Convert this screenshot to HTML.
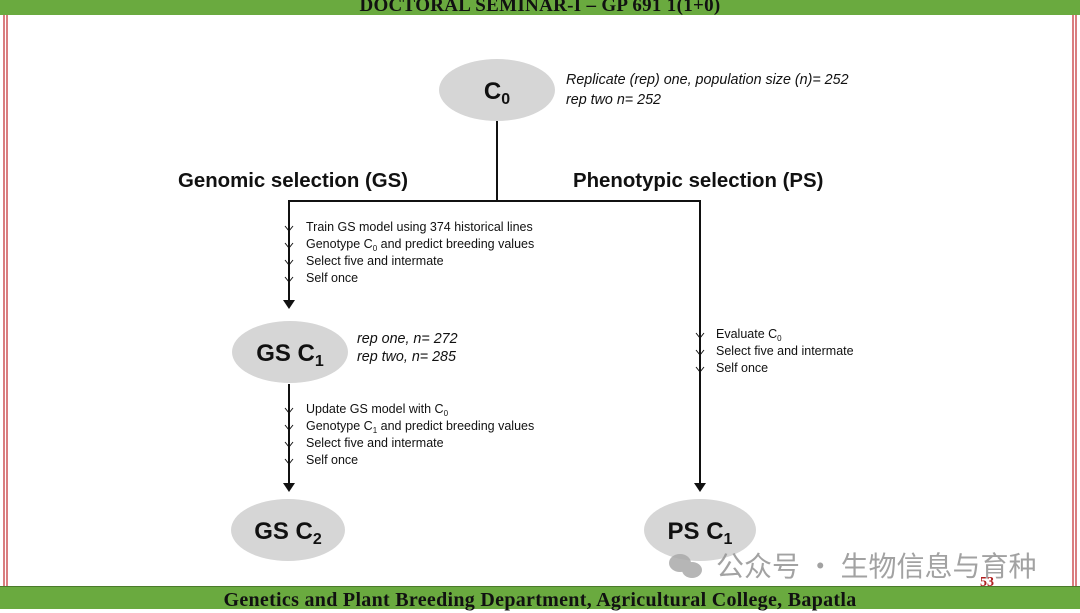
<!DOCTYPE html>
<html><head><style>
body{margin:0;width:1080px;height:608px;overflow:hidden;background:#fff;position:relative;font-family:"Liberation Sans",sans-serif}
.bar{position:absolute;left:0;width:1080px;background:#6aaa3f;text-align:center;font-family:"Liberation Serif",serif;font-weight:bold;color:#111}
</style></head><body>
<div class="bar" style="top:0;height:15px;font-size:19px;line-height:11px;overflow:hidden;letter-spacing:0.3px">DOCTORAL SEMINAR-I – GP 691 1(1+0)</div>
<div class="bar" style="top:586px;height:22px;font-size:20px;line-height:26px;border-top:1px solid #4a7a2a;letter-spacing:0.3px">Genetics and Plant Breeding Department, Agricultural College, Bapatla</div>
<svg width="1080" height="608" style="position:absolute;left:0;top:0">
<g stroke="#c0282c" stroke-width="1.2"><line x1="4" y1="15" x2="4" y2="586"/><line x1="7" y1="15" x2="7" y2="586"/><line x1="1073" y1="15" x2="1073" y2="586"/><line x1="1076" y1="15" x2="1076" y2="586"/></g>
<g fill="#d6d6d6"><ellipse cx="497" cy="90" rx="58" ry="31"/><ellipse cx="290" cy="352" rx="58" ry="31"/><ellipse cx="288" cy="530" rx="57" ry="31"/><ellipse cx="700" cy="530" rx="56" ry="31"/></g>
<g stroke="#111" stroke-width="2" fill="none">
<line x1="497" y1="121" x2="497" y2="201"/><line x1="288" y1="201" x2="701" y2="201"/>
<line x1="289" y1="201" x2="289" y2="303"/><line x1="289" y1="384" x2="289" y2="488"/><line x1="700" y1="201" x2="700" y2="488"/>
</g>
<g fill="#111"><polygon points="283,300 295,300 289,309"/><polygon points="283,483 295,483 289,492"/><polygon points="694,483 706,483 700,492"/></g>
<g stroke="#111" stroke-width="1" fill="none">
<path d="M285,226 l4,5 l4,-5 M285,243 l4,5 l4,-5 M285,260 l4,5 l4,-5 M285,277 l4,5 l4,-5"/>
<path d="M285,408 l4,5 l4,-5 M285,425 l4,5 l4,-5 M285,442 l4,5 l4,-5 M285,459 l4,5 l4,-5"/>
<path d="M696,333 l4,5 l4,-5 M696,350 l4,5 l4,-5 M696,367 l4,5 l4,-5"/>
</g>
<g font-family="Liberation Sans,sans-serif" fill="#111">
<text x="497" y="99" font-size="24" font-weight="bold" text-anchor="middle">C<tspan font-size="16" dy="5">0</tspan></text>
<text x="290" y="361" font-size="24" font-weight="bold" text-anchor="middle">GS C<tspan font-size="16" dy="5">1</tspan></text>
<text x="288" y="539" font-size="24" font-weight="bold" text-anchor="middle">GS C<tspan font-size="16" dy="5">2</tspan></text>
<text x="700" y="539" font-size="24" font-weight="bold" text-anchor="middle">PS C<tspan font-size="16" dy="5">1</tspan></text>
<text x="178" y="187" font-size="20.4" font-weight="bold">Genomic selection (GS)</text>
<text x="573" y="187" font-size="20.4" font-weight="bold">Phenotypic selection (PS)</text>
<g font-size="14.3" font-style="italic"><text x="566" y="84">Replicate (rep) one, population size (n)= 252</text><text x="566" y="104">rep two n= 252</text>
<text x="357" y="343">rep one, n= 272</text><text x="357" y="361">rep two, n= 285</text></g>
<g font-size="12.5">
<text x="306" y="231">Train GS model using 374 historical lines</text>
<text x="306" y="248">Genotype C<tspan font-size="8" dy="3">0</tspan><tspan dy="-3"> and predict breeding values</tspan></text>
<text x="306" y="265">Select five and intermate</text><text x="306" y="282">Self once</text>
<text x="306" y="413">Update GS model with C<tspan font-size="8" dy="3">0</tspan></text>
<text x="306" y="430">Genotype C<tspan font-size="8" dy="3">1</tspan><tspan dy="-3"> and predict breeding values</tspan></text>
<text x="306" y="447">Select five and intermate</text><text x="306" y="464">Self once</text>
<text x="716" y="338">Evaluate C<tspan font-size="8" dy="3">0</tspan></text>
<text x="716" y="355">Select five and intermate</text><text x="716" y="372">Self once</text>
</g>
<text x="716" y="576" font-size="28" fill="#999" font-family="Noto Sans CJK SC,sans-serif" opacity="0.9">公众号 · 生物信息与育种</text>
<text x="980" y="586" font-size="14" font-weight="bold" fill="#b02020" font-family="Liberation Serif,serif">53</text>
</g>
<g fill="#aaa" opacity="0.85"><ellipse cx="680" cy="563" rx="11" ry="9"/><ellipse cx="692" cy="570" rx="10" ry="8"/></g>
</svg>
</body></html>
